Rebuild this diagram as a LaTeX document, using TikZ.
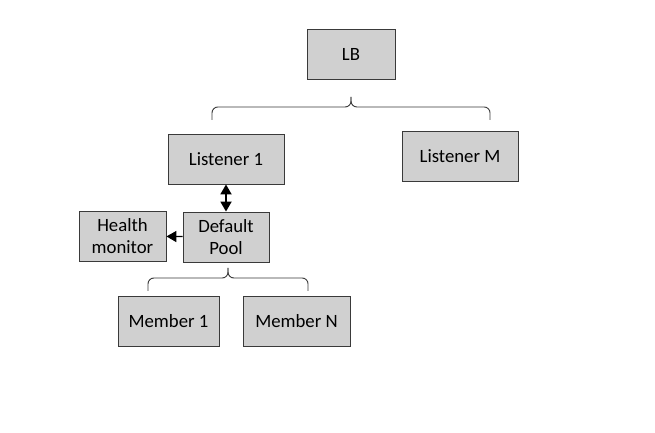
\documentclass[tikz,border=0pt]{standalone}
\usepackage{fontspec}
\setmainfont{Carlito}
\usetikzlibrary{arrows.meta,positioning}
\definecolor{boxgray}{HTML}{D0D0D0}
\definecolor{edgegray}{HTML}{3A3A3A}
\tikzset{%
	box/.style={rectangle, draw=edgegray, fill=boxgray, line width=0.8pt, minimum height=1.5cm, align=center, font=\fontsize{16}{19.5}\selectfont},
	pt/.style={draw=black, line width=1pt, -{Triangle[length=8.5pt,width=9.5pt]}},
	dbl/.style={draw=black, line width=1.2pt, {Triangle[length=8.5pt,width=9.5pt]}-{Triangle[length=8.5pt,width=9.5pt]}},
	brc/.style={draw=edgegray, line width=0.8pt, rounded corners=5pt}
}
\begin{document}
\begin{tikzpicture}[x=0.03cm, y=-0.03cm]
		\useasboundingbox (0,0) rectangle (655,433);
		\node[box, minimum width=2.64cm] (lb) at (351,54.5) {LB};
		\node[box, minimum width=3.48cm] (lis1) at (226,159) {Listener 1};
		\node[box, minimum width=3.48cm] (lism) at (460,156) {Listener M};
		\node[box, minimum width=2.58cm] (pool) at (226,237) {Default\\Pool};
		\node[box, minimum width=2.61cm] (health) at (122.5,236) {Health\\monitor};
		\node[box, minimum width=3.03cm] (mem1) at (168.5,321) {Member 1};
		\node[box, minimum width=3.21cm] (memn) at (296.5,321) {Member N};
		
		% braces
		\coordinate (lbl) at (212,120);
		\coordinate (lbr) at (490,120);
		\coordinate (lbmid) at (351,107);
		\coordinate (lbtip) at (351,97);
		\coordinate (pll) at (148,291);
		\coordinate (plr) at (308,291);
		\coordinate (plmid) at (228,278);
		\coordinate (pltip) at (228,268);
		\draw[brc] (lbl) |- (lbmid) -- (lbtip);
		\draw[brc] (lbr) |- (lbmid) -- (lbtip);
		\draw[brc] (pll) |- (plmid) -- (pltip);
		\draw[brc] (plr) |- (plmid) -- (pltip);
		
		\path[dbl] (lis1) -- (pool);
		\path[pt] (pool) -- (health);
	\end{tikzpicture}
\end{document}
